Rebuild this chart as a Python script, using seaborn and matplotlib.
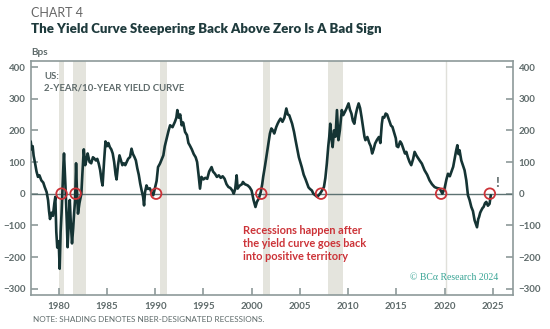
import matplotlib
matplotlib.use("Agg")
import matplotlib.pyplot as plt
import seaborn as sns
import pandas as pd

# ---- data ----
years = [
 1977.10,1977.20,1977.30,1977.40,1977.55,1977.70,1977.85,1978.00,1978.20,1978.40,
 1978.55,1978.75,1978.90,1979.00,1979.10,1979.25,1979.40,1979.55,1979.65,1979.75,
 1979.85,1980.00,1980.10,1980.20,1980.30,1980.40,1980.50,1980.55,1980.65,1980.72,
 1980.85,1980.92,1981.00,1981.10,1981.15,1981.25,1981.38,1981.50,1981.60,1981.70,
 1981.80,1981.88,1982.00,1982.15,1982.35,1982.45,1982.60,1982.75,1982.90,1983.00,
 1983.20,1983.37,1983.55,1983.70,1983.85,1984.00,1984.15,1984.30,1984.45,1984.55,
 1984.70,1984.85,1985.00,1985.15,1985.30,1985.45,1985.60,1985.75,1985.90,1986.00,
 1986.15,1986.30,1986.45,1986.60,1986.75,1986.90,1987.05,1987.20,1987.40,1987.55,
 1987.70,1987.85,1988.00,1988.15,1988.30,1988.45,1988.60,1988.75,1988.85,1988.95,
 1989.10,1989.25,1989.45,1989.60,1989.80,1990.00,1990.15,1990.30,1990.50,1990.70,
 1990.85,1991.00,1991.20,1991.40,1991.55,1991.80,1992.05,1992.20,1992.30,1992.45,
 1992.60,1992.75,1992.90,1993.10,1993.30,1993.45,1993.60,1993.80,1994.00,1994.20,
 1994.35,1994.50,1994.65,1994.80,1995.00,1995.20,1995.40,1995.60,1995.85,1996.00,
 1996.20,1996.40,1996.60,1996.80,1997.00,1997.20,1997.40,1997.60,1997.80,1998.00,
 1998.15,1998.30,1998.45,1998.55,1998.75,1999.00,1999.10,1999.30,1999.60,1999.80,
 2000.00,2000.20,2000.40,2000.55,2000.75,2000.95,2001.10,2001.20,2001.40,2001.55,
 2001.75,2001.90,2002.05,2002.20,2002.35,2002.55,2002.70,2002.85,2003.00,2003.20,
 2003.40,2003.60,2003.75,2003.90,2004.05,2004.20,2004.40,2004.55,2004.70,2004.90,
 2005.05,2005.20,2005.40,2005.60,2005.75,2005.90,2006.05,2006.25,2006.40,2006.60,
 2006.80,2006.95,2007.10,2007.30,2007.50,2007.65,2007.80,2007.95,2008.05,2008.15,
 2008.30,2008.40,2008.55,2008.70,2008.85,2009.00,2009.15,2009.35,2009.50,2009.70,
 2009.85,2010.05,2010.20,2010.35,2010.50,2010.65,2010.80,2010.95,2011.10,2011.25,
 2011.40,2011.55,2011.70,2011.80,2012.00,2012.20,2012.35,2012.50,2012.65,2012.80,
 2013.00,2013.20,2013.35,2013.50,2013.60,2013.75,2013.90,2014.05,2014.25,2014.45,
 2014.60,2014.80,2014.95,2015.05,2015.20,2015.40,2015.55,2015.75,2015.90,2016.04,
 2016.20,2016.38,2016.55,2016.75,2016.90,2017.10,2017.42,2017.65,2017.93,2018.20,
 2018.45,2018.70,2018.97,2019.20,2019.49,2019.65,2019.77,2020.00,2020.20,2020.36,
 2020.55,2020.70,2020.90,2021.05,2021.20,2021.33,2021.45,2021.56,2021.74,2021.90,
 2022.08,2022.26,2022.43,2022.60,2022.78,2022.95,2023.12,2023.25,2023.37,2023.50,
 2023.58,2023.70,2023.81,2023.95,2024.05,2024.20,2024.33,2024.50,2024.67,2024.80,
]
spread = [
 165,140,150,120,96,70,53,58,42,35,
 21,5,-21,-55,-80,-60,-70,-30,-10,-120,
 -170,-150,-237,-120,-60,20,100,127,60,10,
 -100,-169,-120,-40,-20,-90,-157,-110,-60,-20,
 96,20,-63,-30,0,60,140,90,110,127,
 100,96,115,111,105,110,95,74,40,26,
 100,165,150,160,147,140,127,100,60,45,
 90,121,105,90,96,90,100,110,116,142,
 125,116,105,80,60,32,10,-10,-37,5,
 26,15,17,5,-5,21,40,84,95,110,
 121,150,175,200,216,210,227,240,264,240,
 250,216,225,195,185,160,152,140,125,115,
 100,60,16,53,45,50,47,70,84,70,
 63,53,58,50,55,47,30,21,18,10,
 0,15,58,16,25,30,37,30,26,20,
 10,-20,-42,-26,-15,5,30,53,90,121,
 160,190,206,200,190,210,221,230,237,227,
 240,269,250,248,235,221,195,170,147,115,
 100,84,60,45,32,20,15,10,0,-5,
 -10,-5,0,10,21,50,95,150,179,221,
 170,147,200,180,264,169,200,264,248,260,
 270,285,265,253,230,221,250,270,285,270,
 242,210,180,169,179,160,150,127,140,158,
 170,179,160,220,242,240,253,250,232,215,
 211,190,175,150,147,165,158,140,127,132,
 115,100,90,110,132,120,105,95,74,60,
 42,30,21,18,16,8,0,16,45,63,
 55,68,85,111,135,153,125,137,105,90,
 74,42,-5,-20,-42,-55,-84,-95,-106,-80,
 -74,-60,-53,-45,-42,-30,-26,-38,-32,-5,
]
recessions = [(1980.0, 1980.5), (1981.5, 1982.85), (1990.55, 1991.2),
              (2001.2, 2001.9), (2007.95, 2009.45)]
covid_recession = 2020.15
crossings = [1980.3, 1981.75, 1990.1, 2001.0, 2007.2, 2019.65, 2024.7]
yticks = [-300, -200, -100, 0, 100, 200, 300, 400]
xticks = [1980, 1985, 1990, 1995, 2000, 2005, 2010, 2015, 2020, 2025]

df = pd.DataFrame({"year": years, "spread": spread})
cross_df = pd.DataFrame({"year": crossings, "spread": [0] * len(crossings)})

sns.set_style("white")
plt.rcParams["font.family"] = ["Lato", "DejaVu Sans"]

LINE = "#153434"
GRAY = "#5f6b6b"
SPINE = "#8d9a9a"
RED = "#cc3338"

fig = plt.figure(figsize=(5.5, 3.29), dpi=100)
ax = fig.add_axes([0.0564, 0.1033, 0.8763, 0.7113])

for a, b in recessions:
    ax.axvspan(a, b, color="#e4e4dd", lw=0, zorder=0)
ax.axvline(covid_recession, color="#e0e0da", lw=1.0, zorder=0)
ax.axhline(0, color="#5d7272", lw=1.0, zorder=1)

sns.lineplot(data=df, x="year", y="spread", ax=ax, color=LINE, lw=1.9, zorder=3)
sns.scatterplot(data=cross_df, x="year", y="spread", ax=ax, s=58,
                facecolor="none", edgecolor=RED, linewidth=1.3, zorder=4)

ax.set_xlim(1977.13, 2027.1)
ax.set_ylim(-320, 419)
ax.set_xticks(xticks)
ax.set_yticks(yticks)
ax.set_xlabel("")
ax.set_ylabel("")
ax.tick_params(axis="both", direction="in", length=5, width=1.2, color=SPINE,
               labelsize=7, labelcolor=GRAY)
ax.tick_params(axis="y", left=True, right=True, labelleft=True, labelright=True, pad=4)
ax.tick_params(axis="x", bottom=True, pad=5)
for lab in ax.get_xticklabels() + ax.get_yticklabels():
    lab.set_fontweight("bold")
for s in ax.spines.values():
    s.set_color(SPINE)
    s.set_linewidth(1.2)

ax.text(0.027, 0.955, "US:\n2-YEAR/10-YEAR YIELD CURVE", transform=ax.transAxes,
        ha="left", va="top", fontsize=6.9, color=GRAY, fontweight="bold", linespacing=1.45)
ax.text(0.439, 0.3, "Recessions happen after\nthe yield curve goes back\ninto positive territory",
        transform=ax.transAxes, ha="left", va="top", fontsize=7.9, color=RED,
        fontweight="bold", linespacing=1.25)
ax.text(0.97, 0.075, "© BCα Research 2024", transform=ax.transAxes, ha="right",
        va="center", fontsize=7, color="#3aa596", family=["Liberation Serif", "DejaVu Serif"])
ax.text(2025.5, 35, "!", ha="center", va="center", fontsize=10, color=GRAY, fontweight="bold")

fig.text(0.0564, 0.962, "CHART 4", ha="left", va="center", fontsize=9, color="#666666")
fig.text(0.0564, 0.912, "The Yield Curve Steepering Back Above Zero Is A Bad Sign",
         ha="left", va="center", fontsize=9.5, color="#1f3b3d", fontweight="heavy")
fig.text(0.0564, 0.84, "Bps", ha="left", va="center", fontsize=7.2, color=GRAY, fontweight="bold")
fig.text(0.06, 0.03, "NOTE: SHADING DENOTES NBER-DESIGNATED RECESSIONS.", ha="left",
         va="center", fontsize=5.9, color=GRAY)

fig.savefig("out.png", dpi=100)
